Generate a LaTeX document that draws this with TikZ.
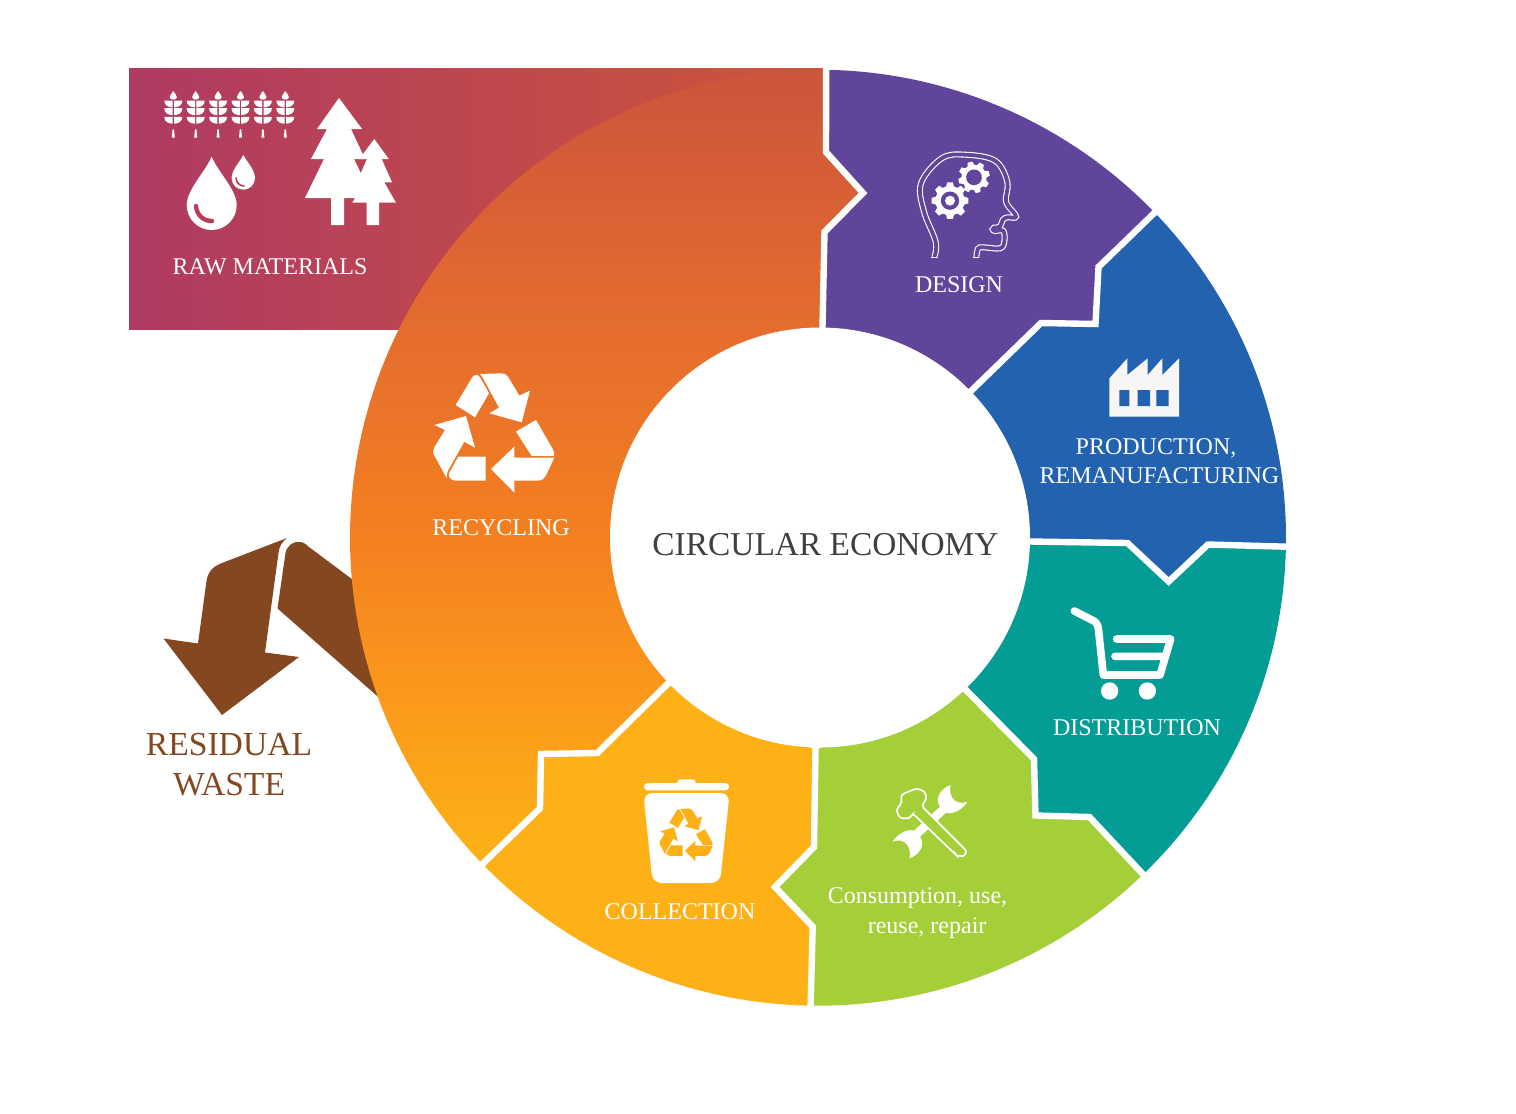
\documentclass[tikz,border=0pt]{standalone}
\usepackage{fontspec}
\setmainfont{Liberation Serif}
\usepackage{xcolor}
\usetikzlibrary{calc}
\definecolor{Xrawleft}{RGB}{175,58,98}
\definecolor{Xrawright}{RGB}{205,85,58}
\definecolor{Xrawmid}{RGB}{182,63,90}
\definecolor{Xpurple}{RGB}{96,69,154}
\definecolor{Xblue}{RGB}{34,98,174}
\definecolor{Xteal}{RGB}{4,157,150}
\definecolor{Xgreen}{RGB}{165,207,57}
\definecolor{Xyellow}{RGB}{254,177,23}
\definecolor{Xbrown}{RGB}{132,71,31}
\definecolor{Xgrey}{RGB}{64,64,64}
\definecolor{Xpaper}{RGB}{248,246,244}
\definecolor{Xfade0}{RGB}{254,178,22}
\definecolor{Xfade1}{RGB}{250,150,28}
\definecolor{Xfade2}{RGB}{243,128,32}
\definecolor{Xfade3}{RGB}{226,106,48}
\definecolor{Xfade4}{RGB}{203,84,60}
\pgfdeclareverticalshading{recyclefade}{100bp}{color(0bp)=(Xfade0); color(25bp)=(Xfade0); color(36.6bp)=(Xfade1); color(45.4bp)=(Xfade2); color(60.4bp)=(Xfade3); color(75bp)=(Xfade4); color(100bp)=(Xfade4)}
\tikzset{
  ringlabel/.style={text=white, align=center, inner sep=0pt, font=\fontsize{12}{14.5}\selectfont},
  gapline/.style={draw=white, line width=3.2pt, line cap=rect},
  headline/.style={draw=white, double=Xpurple, line width=.55pt, double distance=1.9pt},
  wheat/.pic={
    \fill[white] (0,0) .. controls (-1,-2) and (-3.6,-4) .. (-3.6,-6.2) .. controls (-3.6,-9.4) and (3.6,-9.4) .. (3.6,-6.2) .. controls (3.6,-4) and (1,-2) .. (0,0) -- cycle;
    \foreach \rowy in {9.5,17.2,25.8} {
      \fill[white] (-.7,-\rowy) -- (-9,-\rowy) .. controls (-9.2,-\rowy-5) and (-4.5,-\rowy-6.9) .. (-.7,-\rowy-6.9) -- cycle;
      \fill[white] (.7,-\rowy) -- (9,-\rowy) .. controls (9.2,-\rowy-5) and (4.5,-\rowy-6.9) .. (.7,-\rowy-6.9) -- cycle;
    }
    \fill[white] (-1.5,-46.7) -- (1.5,-46.7) -- (.7,-38.3) -- (-.7,-38.3) -- cycle;
  },
  gear/.pic={
    \fill[white] (0,0) circle[radius=.8];
    \foreach \toothangle in {0,45,...,315}
      \fill[white, rotate=\toothangle] (.7,-.24) -- (1,-.15) -- (1,.15) -- (.7,.24) -- cycle;
    \fill[Xpurple] (0,0) circle[radius=.5];
  },
  recycle/.pic={
    \begin{scope}[shift={(-222,220)}, yscale=-1]
      \path[pic actions] (107,135) -- (155,55) .. controls (160,46) and (166,44) .. (172,44) .. controls (180,50) and (184,58) .. (207,100) -- (165,172) -- cycle;
      \path[pic actions] (180,42) -- (245,40) .. controls (255,40) and (260,44) .. (265,52) -- (298,107) -- (330,92) -- (305,187) -- (208,160) -- (237,143) -- (193,62) .. controls (189,54) and (185,47) .. (180,42) -- cycle;
      \path[pic actions] (288,215) -- (348,180) -- (398,267) .. controls (403,275) and (404,282) .. (402,288) -- (335,288) -- cycle;
      \path[pic actions] (403,293) -- (382,338) .. controls (374,355) and (368,362) .. (352,362) -- (283,362) -- (283,398) -- (213,327) -- (283,260) -- (283,293) -- cycle;
      \path[pic actions] (115,290) -- (197,290) -- (197,362) -- (108,362) .. controls (92,362) and (83,350) .. (88,338) -- cycle;
      \path[pic actions] (43,195) -- (138,168) -- (165,263) -- (133,245) -- (85,330) .. controls (80,340) and (79,350) .. (80,355) -- (45,290) .. controls (38,278) and (38,270) .. (43,262) -- (75,210) -- cycle;
    \end{scope}
  }
}
\begin{document}
\begin{tikzpicture}[x=.5pt, y=.5pt]
  \useasboundingbox (0,0) rectangle (1516,-1114);
  \coordinate (ctr) at (818,-537.7);
  \coordinate (o1) at ($(ctr)+(89:468)$);
  \coordinate (o2) at ($(ctr)+(44:468)$);
  \coordinate (o3) at ($(ctr)+(-1.1:468)$);
  \coordinate (o4) at ($(ctr)+(-46:468)$);
  \coordinate (o5) at ($(ctr)+(-90.9:468)$);
  \coordinate (o6) at ($(ctr)+(224.2:468)$);

  % raw materials and waste lie under the ring
  \shade[left color=Xrawleft, right color=Xrawright] (129,-68) rectangle (826,-329);
  \fill[Xbrown] (277.5,-608.5) -- (285.5,-553) .. controls (287,-545) and (294,-541) .. (300,-542) .. controls (303,-542) and (306,-544) .. (309,-547) -- (400,-615) -- (400,-716) -- cycle;
  \fill[Xbrown] (287,-538) -- (222,-563) .. controls (212,-567) and (208,-572) .. (206.5,-581) -- (198,-643.5) -- (163.5,-638.5) -- (222,-715) -- (299,-657) -- (265,-652.5) -- (278.5,-553) .. controls (279,-546) and (283,-541) .. (287,-538) -- cycle;

  % ring
  \shade[shading=recyclefade] (o6) arc[start angle=224.2, end angle=89, radius=468] -- (826,-152) -- (863,-193) -- (824.5,-232) -- (822.5,-327) -- (667,-684.5) -- (597.3,-753) -- (541,-754) -- (540,-808.3) -- cycle;
  \fill[Xpurple] (o1) arc[start angle=89, end angle=44, radius=468] -- (1098.5,-267) -- (1095.5,-324) -- (1041,-323) -- (971,-391) -- (822.5,-327) -- (824.5,-232) -- (863,-193) -- (826,-152) -- cycle;
  \fill[Xblue] (o2) arc[start angle=44, end angle=-1.1, radius=468] -- (1208,-544.5) -- (1168.7,-581.5) -- (1127.5,-543) -- (1030,-541.5) -- (971,-391) -- (1041,-323) -- (1095.5,-324) -- (1098.5,-267) -- cycle;
  \fill[Xteal] (o3) arc[start angle=-1.1, end angle=-46, radius=468] -- (1089.5,-817) -- (1035.5,-815.5) -- (1034,-759) -- (966,-690) -- (1030,-541.5) -- (1127.5,-543) -- (1168.7,-581.5) -- (1208,-544.5) -- cycle;
  \fill[Xgreen] (o4) arc[start angle=-46, end angle=-90.9, radius=468] -- (812.7,-926.7) -- (775,-887) -- (814,-847) -- (815.5,-750) -- (966,-690) -- (1034,-759) -- (1035.5,-815.5) -- (1089.5,-817) -- cycle;
  \fill[Xyellow] (o5) arc[start angle=-90.9, end angle=-135.8, radius=468] -- (540,-808.3) -- (541,-754) -- (597.3,-753) -- (667,-684.5) -- (815.5,-750) -- (814,-847) -- (775,-887) -- (812.7,-926.7) -- cycle;

  \draw[gapline] (o1) -- (826,-152) -- (863,-193) -- (824.5,-232) -- (822.5,-327);
  \draw[gapline] (o2) -- (1098.5,-267) -- (1095.5,-324) -- (1041,-323) -- (971,-391);
  \draw[gapline] (o3) -- (1208,-544.5) -- (1168.7,-581.5) -- (1127.5,-543) -- (1030,-541.5);
  \draw[gapline] (o4) -- (1089.5,-817) -- (1035.5,-815.5) -- (1034,-759) -- (966,-690);
  \draw[gapline] (o5) -- (812.7,-926.7) -- (775,-887) -- (814,-847) -- (815.5,-750);
  \draw[gapline] (o6) -- (540,-808.3) -- (541,-754) -- (597.3,-753) -- (667,-684.5);
  \fill[white] (820,-537.5) circle[radius=210];

  % raw materials icons
  \foreach \wheatno in {0,...,5}
    \pic at ({173.3+22.4*\wheatno},-91) {wheat};
  \fill[white] (211.7,-156.7) .. controls (205,-172) and (186.7,-190) .. (186.7,-205) arc[start angle=180, end angle=360, radius=25] .. controls (236.7,-190) and (218,-172) .. (211.7,-156.7) -- cycle;
  \draw[Xrawmid, line width=2.2pt, line cap=round] (196,-206) .. controls (197,-216) and (204,-221) .. (212,-221);
  \fill[white] (243.3,-155) .. controls (240,-162) and (231.6,-170) .. (231.6,-178) arc[start angle=180, end angle=360, radius=11.7] .. controls (255,-170) and (247,-162) .. (243.3,-155) -- cycle;
  \draw[Xrawmid, line width=.8pt, line cap=round] (236,-178) .. controls (236.5,-183) and (240,-186) .. (244,-186);
  \fill[white] (339,-98) -- (362,-129) -- (351,-129) -- (365,-159) -- (354,-159) -- (373,-198) -- (344,-198) -- (344,-225) -- (331,-225) -- (331,-198) -- (305,-198) -- (324,-159) -- (311,-159) -- (327,-129) -- (317,-129) -- cycle;
  \fill[white] (374.3,-139) -- (388.7,-159) -- (381.7,-159) -- (392,-182.3) -- (384.3,-182.3) -- (396,-202.7) -- (379,-202.7) -- (379,-225) -- (366.7,-225) -- (366.7,-202.7) -- (352.3,-202.7) -- (364.3,-182.3) -- (356.7,-182.3) -- (367,-159) -- (359.3,-159) -- cycle;

  % design icon
  \begin{scope}[shift={(900,-140)}, scale=1/3, yscale=-1]
    \draw[headline] plot[smooth, tension=.6] coordinates {(103,352) (107,305) (72,215) (63,130) (125,55) (195,44) (285,62) (322,125) (318,185) (345,222) (345,233) (322,232) (308,240) (300,260) (282,263) (278,268) (285,273) (310,273) (313,305) (300,325) (250,322) (234,326) (229,352)};
    \draw[white, line width=.55pt] (94,352) -- (112,352) (220,352) -- (238,352);
    \pic at (150,182) [scale=18.3] {gear};
    \pic at (222,112) [scale=15.7, rotate=15] {gear};
    \fill[white] (150,182) circle[radius=15];
  \end{scope}

  % production icon
  \begin{scope}[shift={(1030,-340)}, scale=1/3, yscale=-1]
    \fill[Xpaper] (238,115) -- (292,55) -- (292,105) -- (353,55) -- (353,105) -- (397,55) -- (397,105) -- (447,55) -- (447,230) -- (238,230) -- cycle;
    \fill[Xblue] (268,150) rectangle (298,198) (323,150) rectangle (360,198) (379,150) rectangle (416,198);
  \end{scope}

  % distribution icon
  \begin{scope}[shift={(960,-520)}, scale=1/3, yscale=-1]
    \draw[white, line width=3.8pt, line cap=round, line join=round] (343,273) -- (392,298) .. controls (408,305) and (413,312) .. (415,325) -- (430,465) -- (600,465) -- (632,357) -- (470,357) (465,409) -- (610,409);
    \fill[white] (449,513) circle[radius=26] (562,513) circle[radius=26];
  \end{scope}

  % repair icon
  \begin{scope}[shift={(820,-770)}, scale=1/3, yscale=-1]
    \fill[white] (392,45) .. controls (362,55) and (343,85) .. (360,110) -- (282,182) .. controls (258,175) and (230,195) .. (218,215) .. controls (230,208) and (255,210) .. (264,228) .. controls (270,240) and (272,255) .. (268,265) .. controls (298,255) and (317,225) .. (300,200) -- (378,128) .. controls (402,135) and (430,115) .. (442,95) .. controls (430,102) and (405,100) .. (396,82) .. controls (390,70) and (388,55) .. (392,45) -- cycle;
    \filldraw[fill=Xgreen, draw=white, line width=.85pt, rounded corners=1.5pt] (305,108) -- (432,235) .. controls (440,245) and (434,258) .. (420,258) .. controls (412,258) and (408,255) .. (404,251) -- (278,130) -- (270,145) -- (240,145) -- (228,120) -- (245,100) -- (243,75) -- (260,67) -- (290,55) -- (315,65) -- (320,85) -- cycle;
  \end{scope}

  % collection icon
  \begin{scope}[shift={(470,-680)}, scale=1/3, yscale=-1]
    \fill[white, rounded corners=1.8pt] (522,309) rectangle (777,331);
    \fill[white, rounded corners=1.5pt] (622,298) rectangle (677,320);
    \fill[white, rounded corners=4.5pt] (520,339) -- (779,339) -- (750,609) -- (548,609) -- cycle;
  \end{scope}
  \pic[fill=Xyellow, scale=.1467] at (686.3,-835) {recycle};

  % recycling icon
  \pic[fill=white, scale=1/3] at (494,-433.3) {recycle};

  \node[ringlabel] (raw) at (270,-267) {RAW MATERIALS};
  \node[ringlabel] (design) at (959,-285) {DESIGN};
  \node[ringlabel] (production) at (1159.5,-461) {PRODUCTION,\hspace*{3.5pt}\\REMANUFACTURING};
  \node[ringlabel] (distribution) at (1137,-728) {DISTRIBUTION};
  \node[ringlabel, align=left, font=\fontsize{12}{15}\selectfont] (consumption) at (917.5,-913) {Consumption, use,\\\hspace*{20pt}reuse, repair};
  \node[ringlabel] (collection) at (680,-912) {COLLECTION};
  \node[ringlabel] (recycling) at (501,-528) {RECYCLING};
  \node[text=Xgrey, inner sep=0pt, font=\fontsize{16.7}{20}\selectfont] (economy) at (825.5,-545) {CIRCULAR ECONOMY};
  \node[text=Xbrown, align=center, inner sep=0pt, font=\fontsize{16.8}{20}\selectfont] (waste) at (229,-764.5) {RESIDUAL\\WASTE};
\end{tikzpicture}
\end{document}
